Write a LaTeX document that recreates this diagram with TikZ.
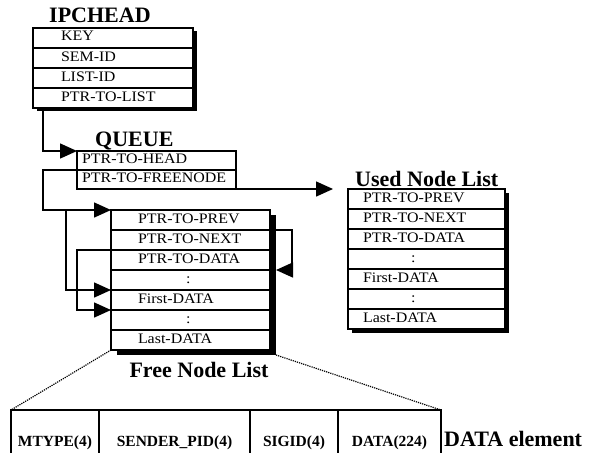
\documentclass[tikz,border=0pt]{standalone}
\usepackage{fontspec}
\setmainfont{Liberation Serif}
\newfontfamily\rowfont[FakeStretch=1.1]{Liberation Serif}
\usetikzlibrary{arrows.meta,backgrounds}

\tikzset{
    fld/.style={draw, fill=white, line width=1.1pt, inner sep=0pt, outer sep=0pt,
        anchor=north west, text width=#1, align=left, minimum height=20pt,
        text height=10pt, text depth=4pt, font=\rowfont\fontsize{14.5}{16}\selectfont},
    ipfld/.style={fld=160pt, execute at begin node={\hspace*{28pt}}},
    qfld/.style={fld=159pt, minimum height=19pt, execute at begin node={\hspace*{5pt}}},
    ffld/.style={fld=159pt, execute at begin node={\hspace*{27pt}}},
    ufld/.style={fld=157pt, execute at begin node={\hspace*{15pt}}},
    heading/.style={font=\bfseries\fontsize{22}{24}\selectfont, inner sep=0pt, anchor=base west},
    cell/.style={draw, line width=1.1pt, inner sep=0pt, outer sep=0pt, anchor=north west,
        minimum height=45pt, text height=30pt, text depth=3pt,
        font=\bfseries\fontsize{15.5}{17}\selectfont},
    ptr/.style={line width=1.5pt, -{Triangle[length=17pt,width=15pt]}},
    zoomline/.style={densely dotted, line width=1.2pt},
}

\begin{document}
\begin{tikzpicture}[x=1pt, y=-1pt]
    \useasboundingbox (0,0) rectangle (601,452);

    \node[heading] (iptitle) at (49,23) {IPCHEAD};
    \node[ipfld] (ipkey) at (33,28) {KEY};
    \node[ipfld] (ipsem) at (33,48) {SEM-ID};
    \node[ipfld] (iplistid) at (33,68) {LIST-ID};
    \node[ipfld] (ipptr) at (33,88) {PTR-TO-LIST};

    \node[heading] (qtitle) at (95,146) {QUEUE};
    \node[qfld] (qhead) at (77,151) {PTR-TO-HEAD};
    \node[qfld] (qfree) at (77,170) {PTR-TO-FREENODE};

    \node[ffld] (fprev) at (111,210) {PTR-TO-PREV};
    \node[ffld] (fnext) at (111,230) {PTR-TO-NEXT};
    \node[ffld] (fdata) at (111,250) {PTR-TO-DATA};
    \node[ffld] (fdots) at (111,270) {\hspace*{48pt}:};
    \node[ffld] (ffirst) at (111,290) {First-DATA};
    \node[ffld] (fmore) at (111,310) {\hspace*{48pt}:};
    \node[ffld] (flast) at (111,330) {Last-DATA};
    \node[heading, anchor=base] (ftitle) at (199,377) {Free Node List};

    \node[heading] (utitle) at (355,186) {Used Node List};
    \node[ufld] (uprev) at (348,189) {PTR-TO-PREV};
    \node[ufld] (unext) at (348,209) {PTR-TO-NEXT};
    \node[ufld] (udata) at (348,229) {PTR-TO-DATA};
    \node[ufld] (udots) at (348,249) {\hspace*{48pt}:};
    \node[ufld] (ufirst) at (348,269) {First-DATA};
    \node[ufld] (umore) at (348,289) {\hspace*{48pt}:};
    \node[ufld] (ulast) at (348,309) {Last-DATA};

    \node[cell, minimum width=88pt] (mtype) at (11,410) {MTYPE(4)};
    \node[cell, minimum width=151pt] (sender) at (99,410) {SENDER\_PID(4)};
    \node[cell, minimum width=88pt] (sigid) at (250,410) {SIGID(4)};
    \node[cell, minimum width=103pt] (dataf) at (338,410) {DATA(224)};
    \node[heading] (dtitle) at (444,446) {DATA element};

    % drop shadows
    \begin{scope}[on background layer]
        \fill ([shift={(4pt,-3pt)}]ipkey.north west) rectangle ([shift={(4pt,-3pt)}]ipptr.south east);
        \fill ([shift={(6pt,-5pt)}]fprev.north west) rectangle ([shift={(6pt,-5pt)}]flast.south east);
        \fill ([shift={(4pt,-4pt)}]uprev.north west) rectangle ([shift={(4pt,-4pt)}]ulast.south east);
    \end{scope}

    \draw[ptr] ([xshift=10pt]ipptr.south west) |- (qhead.north west);
    \draw[ptr] (qfree.north west) -- ++(-34,0) |- (fprev.north west);
    \draw[ptr] (qfree.south east) -- ([xshift=-15pt]uprev.north west);

    \coordinate (fork) at ([xshift=-45pt]fprev.north west);
    \draw[ptr] (fork) |- (ffirst.north west);
    \draw[ptr] (fnext.north east) -- ++(22,0) |- ([xshift=6pt]fdots.north east);
    \draw[ptr] (fdata.north west) -- ++(-34,0) |- (fmore.north west);

    \draw[zoomline] (flast.south west) -- (mtype.north west);
    \draw[zoomline] ([shift={(6pt,-5pt)}]flast.south east) -- (dataf.north east);

\end{tikzpicture}
\end{document}
